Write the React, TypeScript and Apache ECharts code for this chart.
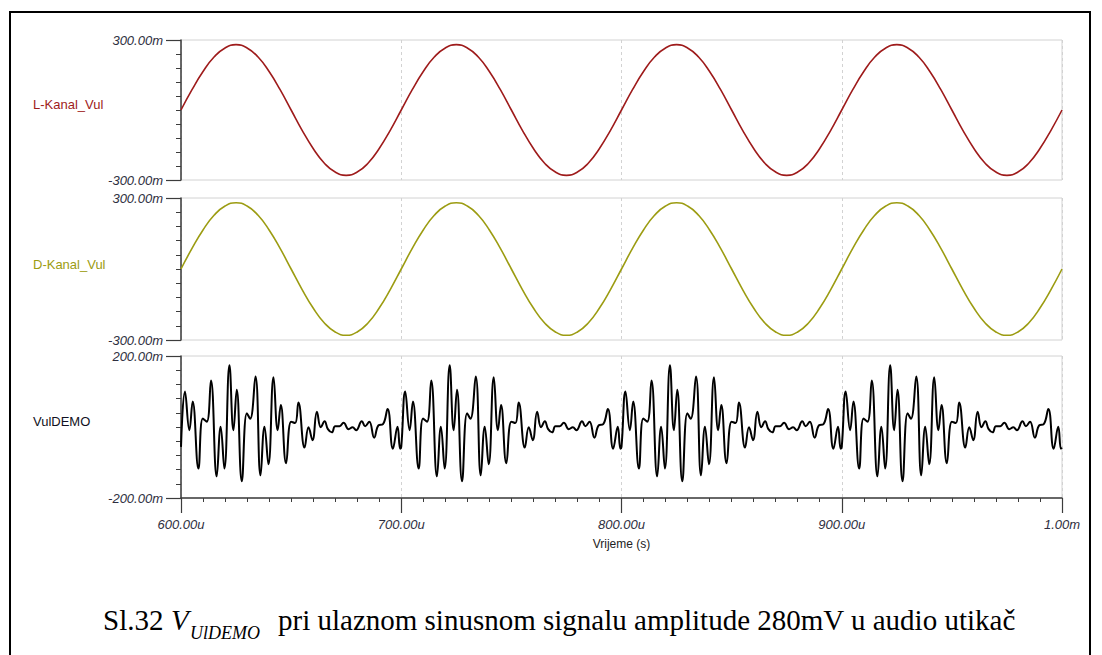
import React, { useEffect, useRef } from "react";
import * as echarts from "echarts";

// ---- data (time in microseconds, voltage in millivolts) ----
const X_MIN = 600;
const X_MAX = 1000;
const X_INTERVAL = 100;
const xTickLabels: Record<number, string> = {
  600: "600.00u",
  700: "700.00u",
  800: "800.00u",
  900: "900.00u",
  1000: "1.00m",
};
const sineSampleStart = 600;
const sineSampleStep = 5;

const lKanalVul = [
  0, 87, 165, 227, 266, 280, 266, 227, 165, 87, 0, -87, -165, -227, -266, -280, -266, -227, -165, -87,
  0, 87, 165, 227, 266, 280, 266, 227, 165, 87, 0, -87, -165, -227, -266, -280, -266, -227, -165, -87,
  0, 87, 165, 227, 266, 280, 266, 227, 165, 87, 0, -87, -165, -227, -266, -280, -266, -227, -165, -87,
  0, 87, 165, 227, 266, 280, 266, 227, 165, 87, 0, -87, -165, -227, -266, -280, -266, -227, -165, -87,
  0,
];
const dKanalVul = [
  0, 87, 165, 227, 266, 280, 266, 227, 165, 87, 0, -87, -165, -227, -266, -280, -266, -227, -165, -87,
  0, 87, 165, 227, 266, 280, 266, 227, 165, 87, 0, -87, -165, -227, -266, -280, -266, -227, -165, -87,
  0, 87, 165, 227, 266, 280, 266, 227, 165, 87, 0, -87, -165, -227, -266, -280, -266, -227, -165, -87,
  0, 87, 165, 227, 266, 280, 266, 227, 165, 87, 0, -87, -165, -227, -266, -280, -266, -227, -165, -87,
  0,
];

// VulDEMO repeats every 100 us; one period
const demoOffsets = [
  0, 1.8, 3.8, 5.3, 7.9, 9.9, 11.7, 13.6, 16.2, 18.0, 19.7, 22.0, 23.8, 25.3, 27.6, 29.9, 31.4,
  33.8, 36.1, 37.9, 39.7, 42.0, 43.9, 45.3, 47.7, 50.0, 51.8, 53.3, 56.1, 57.9, 59.7, 61.7, 63.5,
  65.2, 66.7, 68.5, 70.0, 72.0, 73.8, 76.1, 77.9, 79.5, 82.1, 83.6, 85.5, 87.7, 89.7, 91.7, 93.8,
  96.2, 98.3, 99.5,
];
const demoValues = [
  -56, 100, -9, 72, -117, 24, 15, 131, -139, 1, -117, 174, -9, 105, -153, 39, 23,
  142, -136, 1, -105, 140, -9, 62, -102, 15, 11, 69, -58, -1, -37, 43, -1,
  16, -6, -15, 2, 2, 12, -6, -1, -9, 16, 2, 15, -30, 5, 8, 51,
  -61, 1, -61,
];
const demoPeriodStarts = [600, 700, 800, 900];
const demoEndValue = -58;

const panelLabels = ["L-Kanal_Vul", "D-Kanal_Vul", "VulDEMO"];
const captionLead = "Sl.32";
const captionVar = "V";
const captionSub = "UlDEMO";
const captionRest = "pri ulaznom sinusnom signalu amplitude 280mV u audio utikač";

// ---- styles ----
const RED = "#9e1b1b";
const OLIVE = "#9c9c12";
const AXIS = "#3c3c3c";
const LABEL = "#2e2e40";
const GRID = "#d2d2d2";
const SANS = '"Liberation Sans", Arial, sans-serif';
const SERIF = '"Liberation Serif", "Times New Roman", serif';

const grids = [
  { left: 181, right: 40, top: 40, height: 140 },
  { left: 181, right: 40, top: 198, height: 142 },
  { left: 181, right: 40, top: 356, height: 142 },
];

export default function App() {
  const ref = useRef<HTMLDivElement>(null);

  useEffect(() => {
    if (!ref.current) return;
    const chart = echarts.init(ref.current, null, { renderer: "svg" });

    const sinePairs = (vals: number[]) =>
      vals.map((v, i) => [sineSampleStart + i * sineSampleStep, v]);
    const demoPairs: number[][] = [];
    demoPeriodStarts.forEach((s) => {
      demoOffsets.forEach((o, i) => demoPairs.push([s + o, demoValues[i]]));
    });
    demoPairs.push([X_MAX, demoEndValue]);

    const xAxisBase = (gridIndex: number, bottom: boolean) => ({
      type: "value" as const,
      gridIndex,
      min: X_MIN,
      max: X_MAX,
      interval: X_INTERVAL,
      axisLine: { show: bottom, onZero: false, lineStyle: { color: AXIS, width: 1.5 } },
      axisTick: { show: bottom, length: 15, lineStyle: { color: AXIS, width: 1.2 } },
      minorTick: { show: bottom, splitNumber: 10, length: 4, lineStyle: { color: AXIS, width: 1 } },
      axisLabel: {
        show: bottom,
        margin: 20,
        color: LABEL,
        fontFamily: SANS,
        fontStyle: "italic" as const,
        fontSize: 13,
        formatter: (v: number) => xTickLabels[v] ?? "",
      },
      splitLine: { show: true, lineStyle: { color: GRID, type: [3, 3] as any, width: 1 } },
      minorSplitLine: { show: false },
      name: bottom ? "Vrijeme (s)" : "",
      nameLocation: "middle" as const,
      nameGap: 40,
      nameTextStyle: { color: "#222", fontFamily: SANS, fontSize: 12 },
    });

    const yAxisBase = (gridIndex: number, lim: number) => ({
      type: "value" as const,
      gridIndex,
      min: -lim,
      max: lim,
      interval: 2 * lim,
      axisLine: { show: true, onZero: false, lineStyle: { color: AXIS, width: 1.5 } },
      axisTick: { show: true, length: 15, lineStyle: { color: AXIS, width: 1.2 } },
      minorTick: { show: true, splitNumber: 10, length: 5, lineStyle: { color: AXIS, width: 1 } },
      axisLabel: {
        margin: 18,
        color: LABEL,
        fontFamily: SANS,
        fontStyle: "italic" as const,
        fontSize: 13,
        formatter: (v: number) => (v > 0 ? `${v}.00m` : `-${Math.abs(v)}.00m`),
      },
      splitLine: { show: false },
    });

    const labelYs = [104, 264, 421];
    const labelColors = [RED, OLIVE, "#111122"];

    chart.setOption({
      animation: false,
      backgroundColor: "#ffffff",
      grid: grids.map((g) => ({ ...g, show: true, borderColor: GRID, borderWidth: 1, backgroundColor: "transparent" })),
      xAxis: [xAxisBase(0, false), xAxisBase(1, false), xAxisBase(2, true)],
      yAxis: [yAxisBase(0, 300), yAxisBase(1, 300), yAxisBase(2, 200)],
      series: [
        {
          type: "line",
          xAxisIndex: 0,
          yAxisIndex: 0,
          data: sinePairs(lKanalVul),
          smooth: true,
          showSymbol: false,
          lineStyle: { color: RED, width: 1.6 },
        },
        {
          type: "line",
          xAxisIndex: 1,
          yAxisIndex: 1,
          data: sinePairs(dKanalVul),
          smooth: true,
          showSymbol: false,
          lineStyle: { color: OLIVE, width: 1.6 },
        },
        {
          type: "line",
          xAxisIndex: 2,
          yAxisIndex: 2,
          data: demoPairs,
          smooth: 0.45,
          showSymbol: false,
          lineStyle: { color: "#000000", width: 2 },
        },
      ],
      graphic: [
        {
          type: "rect",
          shape: { x: 10, y: 12, width: 1080, height: 700 },
          style: { fill: "none", stroke: "#000", lineWidth: 2 },
          silent: true,
        },
        ...panelLabels.map((t, i) => ({
          type: "text",
          x: 33,
          y: labelYs[i],
          style: {
            text: t,
            fill: labelColors[i],
            font: `13px ${SANS}`,
            verticalAlign: "middle",
            textVerticalAlign: "middle",
          },
        })),
        {
          type: "text",
          x: 103,
          y: 620,
          style: { text: captionLead, fill: "#000", font: `29px ${SERIF}`, verticalAlign: "middle", textVerticalAlign: "middle" },
        },
        {
          type: "text",
          x: 171,
          y: 620,
          style: { text: captionVar, fill: "#000", font: `italic 29px ${SERIF}`, verticalAlign: "middle", textVerticalAlign: "middle" },
        },
        {
          type: "text",
          x: 190,
          y: 633,
          style: { text: captionSub, fill: "#000", font: `italic 18px ${SERIF}`, verticalAlign: "middle", textVerticalAlign: "middle" },
        },
        {
          type: "text",
          x: 278,
          y: 620,
          style: { text: captionRest, fill: "#000", font: `29px ${SERIF}`, verticalAlign: "middle", textVerticalAlign: "middle" },
        },
      ],
    });

    return () => chart.dispose();
  }, []);

  return (
    <div
      ref={ref}
      style={{ position: "fixed", left: 0, top: 0, width: 1102, height: 655, background: "#fff" }}
    />
  );
}
